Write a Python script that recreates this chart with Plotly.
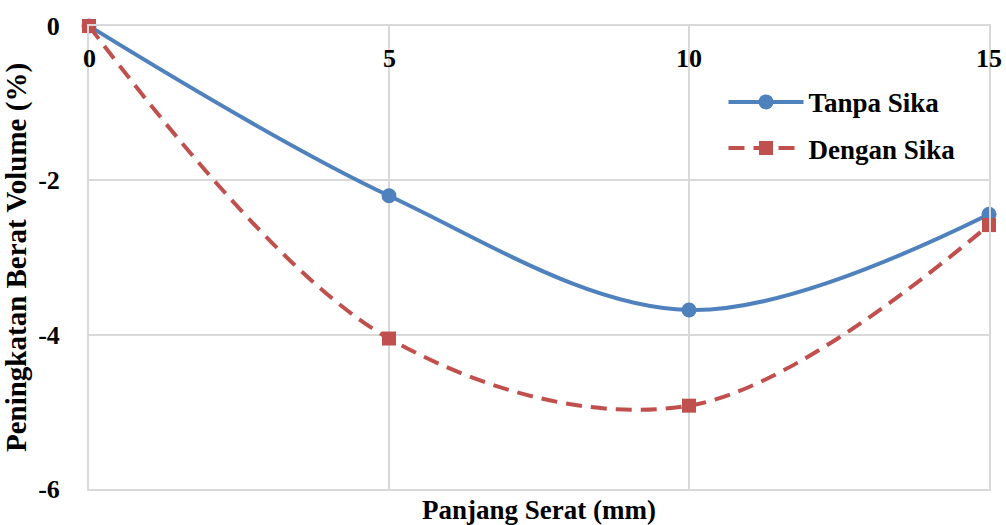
import plotly.graph_objects as go

x_vals = [0, 5, 10, 15]
tanpa_sika = [0, -2.2, -3.68, -2.44]
dengan_sika = [0, -4.05, -4.92, -2.58]
y_ticks = [0, -2, -4, -6]

font_family = "Times New Roman, Liberation Serif, serif"
grid_col = "#D9D9D9"

fig = go.Figure()
fig.add_trace(go.Scatter(
    x=x_vals, y=tanpa_sika, name="Tanpa Sika", mode="lines+markers", legendgroup="a",
    line=dict(color="#4F81BD", width=4, shape="spline", smoothing=1),
    marker=dict(symbol="circle", size=15, color="#4F81BD"),
    cliponaxis=False,
))
fig.add_trace(go.Scatter(
    x=x_vals, y=dengan_sika, name="Dengan Sika", mode="lines+markers", legendgroup="b",
    line=dict(color="#C0504D", width=4, shape="spline", smoothing=1, dash="16px,9px"),
    marker=dict(symbol="square", size=14, color="#C0504D"),
    cliponaxis=False,
))

fig.update_layout(
    width=1006, height=525,
    margin=dict(l=89, r=17, t=20, b=36),
    paper_bgcolor="white", plot_bgcolor="white",
    font=dict(family=font_family, size=26, color="black"),
    showlegend=True,
    legend=dict(x=0.705, y=0.888, xanchor="left", yanchor="top",
                font=dict(family=font_family, size=27, color="black", weight="bold"),
                bgcolor="rgba(0,0,0,0)", itemwidth=75, tracegroupgap=8),
    xaxis=dict(
        range=[0, 15], tickvals=x_vals, showticklabels=False, ticks="",
        showgrid=True, gridcolor=grid_col, gridwidth=2,
        zeroline=False, showline=True, mirror=True, linecolor=grid_col, linewidth=2,
    ),
    yaxis=dict(
        range=[-6, 0], tickvals=y_ticks, ticktext=[str(v) for v in y_ticks],
        showgrid=True, gridcolor=grid_col, gridwidth=2,
        zeroline=False, showline=True, mirror=True, linecolor=grid_col, linewidth=2,
        ticks="",
        tickfont=dict(family=font_family, size=26, color="black", weight="bold"),
        ticklabelstandoff=22,
        title=dict(text="Peningkatan Berat Volume (%)", standoff=4,
                   font=dict(family=font_family, size=29, color="black", weight="bold")),
    ),
)
for xv in x_vals:
    fig.add_annotation(
        text=str(xv), x=xv, y=0, xref="x", yref="y",
        xanchor="center", yanchor="middle", yshift=-32, showarrow=False,
        font=dict(family=font_family, size=26, color="black", weight="bold"),
    )
fig.add_annotation(
    text="Panjang Serat (mm)", xref="paper", yref="paper", x=0.5, y=0,
    xanchor="center", yanchor="middle", yshift=-21, showarrow=False,
    font=dict(family=font_family, size=27, color="black", weight="bold"),
)
fig.write_html("out.html")
